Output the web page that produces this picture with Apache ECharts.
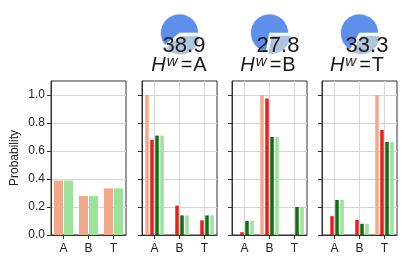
<!DOCTYPE html>
<html><head><meta charset="utf-8">
<script src="https://cdn.jsdelivr.net/npm/echarts@6/dist/echarts.min.js"></script>
<style>html,body{margin:0;padding:0;background:#fff}#c{width:407px;height:265px}</style>
</head><body><div id="c"></div>
<script>
// ---- data ----
const categories = ['A', 'B', 'T'];
const priorTrue = [0.389, 0.278, 0.333];
const priorModel = [0.389, 0.278, 0.333];
const hwLabels = ['A', 'B', 'T'];
const accuracy = [38.9, 27.8, 33.3];
// per H^w panel: salmon (true), red, dark green, light green
const trueA = [1.0, 0, 0];
const redA = [0.68, 0.21, 0.105];
const dkGreenA = [0.71, 0.14, 0.14];
const ltGreenA = [0.71, 0.14, 0.14];
const trueB = [0, 1.0, 0];
const redB = [0.02, 0.975, 0];
const dkGreenB = [0.10, 0.70, 0.20];
const ltGreenB = [0.10, 0.70, 0.20];
const trueT = [0, 0, 1.0];
const redT = [0.135, 0.107, 0.75];
const dkGreenT = [0.25, 0.08, 0.665];
const ltGreenT = [0.25, 0.08, 0.665];
const yTicks = [0, 0.2, 0.4, 0.6, 0.8, 1.0];

// ---- style/layout ----
const FONT = 'Liberation Sans, Arial, sans-serif';
const C_SALMON = '#F2A88A', C_RED = '#E3201E', C_DKG = '#0E6E10', C_LTG = '#9BE29B';
const C_BLUE = '#5E8FEA', C_LBLUE = '#B0C4DE';
const AX = '#333', GRID = '#d6d6d6';
const lefts = [51, 142, 232, 322];
const W = 75, TOP = 81, H = 154;
const panels = [
  [trueA, redA, dkGreenA, ltGreenA],
  [trueB, redB, dkGreenB, ltGreenB],
  [trueT, redT, dkGreenT, ltGreenT]
];
const numX = [184, 278, 367];
const labX = [179, 268, 357];

const grid = lefts.map(l => ({left: l, top: TOP, width: W, height: H, show: true,
  borderColor: AX, borderWidth: 1, backgroundColor: 'transparent'}));

const xAxis = lefts.map((l, i) => ({
  type: 'category', gridIndex: i, data: categories,
  axisLine: {lineStyle: {color: AX, width: 1}},
  axisTick: {show: true, alignWithLabel: true, length: 4, lineStyle: {color: AX}},
  axisLabel: {fontFamily: FONT, fontSize: 12, color: '#222', margin: 8},
  splitLine: {show: i > 0, alignWithLabel: true, lineStyle: {color: GRID, width: 1}}
}));

const yAxis = lefts.map((l, i) => ({
  type: 'value', gridIndex: i, min: 0, max: 1.1, interval: 0.2,
  name: i === 0 ? 'Probability' : '', nameLocation: 'middle', nameGap: 30,
  nameTextStyle: {fontFamily: FONT, fontSize: 12, color: '#222'},
  axisLine: {show: true, lineStyle: {color: AX, width: 1}},
  axisTick: {show: true, length: 4, lineStyle: {color: AX}, customValues: yTicks},
  axisLabel: {show: i === 0, fontFamily: FONT, fontSize: 12, color: '#222', margin: 6,
    customValues: yTicks, formatter: v => v.toFixed(1)},
  splitLine: {show: true, lineStyle: {color: GRID, width: 1}}
}));

const series = [
  {type: 'bar', xAxisIndex: 0, yAxisIndex: 0, data: priorTrue, barWidth: 9, barGap: '11%',
   itemStyle: {color: C_SALMON}},
  {type: 'bar', xAxisIndex: 0, yAxisIndex: 0, data: priorModel, barWidth: 9, barGap: '11%',
   itemStyle: {color: C_LTG}}
];
const cols = [C_SALMON, C_RED, C_DKG, C_LTG];
panels.forEach((p, k) => {
  p.forEach((arr, j) => {
    series.push({type: 'bar', xAxisIndex: k + 1, yAxisIndex: k + 1, data: arr,
      barWidth: 3.5, barGap: '43%', itemStyle: {color: cols[j]}});
  });
  const cx = lefts[k + 1] + W / 2;
  series.push({type: 'pie', center: [cx, 33], radius: 19, startAngle: 0, clockwise: false,
    silent: true, selectedMode: 'single', selectedOffset: 3, z: 1,
    label: {show: false}, labelLine: {show: false}, emphasis: {disabled: true},
    itemStyle: {borderColor: '#fff', borderWidth: 0.6},
    data: [
      {value: 100 - accuracy[k], itemStyle: {color: C_BLUE}},
      {value: accuracy[k], selected: true, itemStyle: {color: C_LBLUE}}
    ]});
});

const graphic = [];
hwLabels.forEach((h, k) => {
  graphic.push({type: 'text', x: numX[k], y: 46, z: 100,
    style: {text: accuracy[k].toFixed(1), font: '22px ' + FONT, fill: '#1a1a1a',
      align: 'center', verticalAlign: 'middle'}});
  graphic.push({type: 'text', x: labX[k], y: 65, z: 100,
    style: {text: '{h|H}{w|w}{e|=}{n|' + h + '}', align: 'center', verticalAlign: 'middle',
      fill: '#1a1a1a',
      rich: {
        h: {fontFamily: FONT, fontSize: 20, fontStyle: 'italic', fill: '#1a1a1a', lineHeight: 22},
        w: {fontFamily: FONT, fontSize: 15, fontStyle: 'italic', fill: '#1a1a1a', lineHeight: 12,
            verticalAlign: 'top', padding: [0, 2, 0, 1]},
        e: {fontFamily: FONT, fontSize: 20, fill: '#1a1a1a', lineHeight: 22, padding: [0, 1, 0, 1]},
        n: {fontFamily: FONT, fontSize: 20, fill: '#1a1a1a', lineHeight: 22}
      }}});
});

const chart = echarts.init(document.getElementById('c'), null, {renderer: 'canvas'});
chart.setOption({animation: false, backgroundColor: '#fff', grid, xAxis, yAxis, series, graphic});
</script>
</body></html>
